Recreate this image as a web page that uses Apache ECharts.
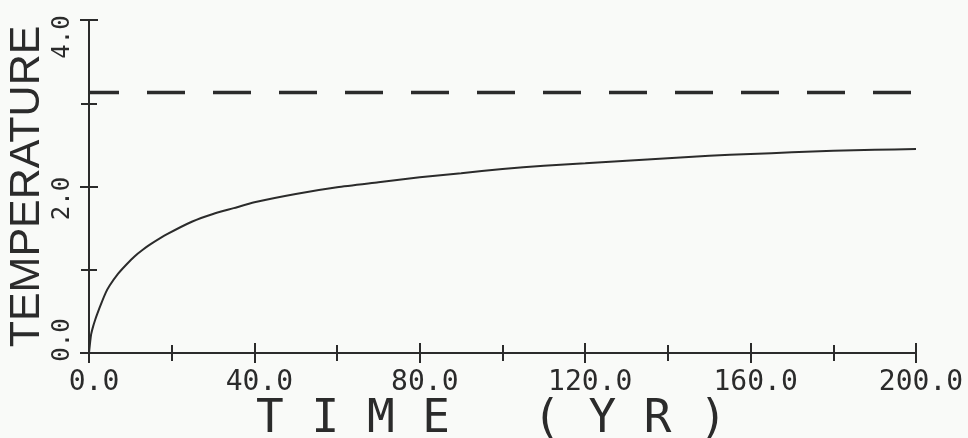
<!DOCTYPE html>
<html>
<head>
<meta charset="utf-8">
<script src="https://cdn.jsdelivr.net/npm/echarts@6/dist/echarts.min.js"></script>
<style>
  html, body { margin: 0; padding: 0; background: #f9faf8; }
  #chart { width: 968px; height: 438px; }
</style>
</head>
<body>
<div id="chart"></div>
<script>
// ---- data ----
const timeYears = [0, 0.5, 1, 1.5, 2, 3, 4, 5, 7, 9, 11, 13, 15, 19, 25, 30, 35, 40, 50, 60, 70, 80, 90, 100, 110, 120, 130, 140, 150, 160, 170, 180, 190, 200];
const temperature = [0, 0.22, 0.32, 0.40, 0.47, 0.60, 0.72, 0.81, 0.95, 1.06, 1.16, 1.24, 1.31, 1.43, 1.58, 1.67, 1.74, 1.81, 1.91, 1.99, 2.05, 2.11, 2.16, 2.21, 2.25, 2.28, 2.31, 2.34, 2.37, 2.39, 2.41, 2.43, 2.44, 2.45];
const equilibriumTime = [0, 200];
const equilibriumTemp = [3.13, 3.13];
const xTickValues = [0, 40, 80, 120, 160, 200];
const yTickValues = [0, 2, 4];
const xTitle = 'T I M E   ( Y R )';
const yTitle = 'TEMPERATURE';

const ink = '#2b2b2b';
const mono = '"DejaVu Sans Mono", monospace';

function fmt(v) { return v.toFixed(1); }

function xAx(pos, opts) {
  return Object.assign({
    type: 'value', position: pos, min: 0, max: 200, interval: 40, offset: 0,
    axisLine: { show: false, lineStyle: { color: ink, width: 2 } },
    axisTick: { show: true, inside: false, length: 10, lineStyle: { color: ink, width: 2 } },
    minorTick: { show: false },
    axisLabel: { show: false },
    splitLine: { show: false }
  }, opts);
}
function yAx(pos, opts) {
  return Object.assign({
    type: 'value', position: pos, min: 0, max: 4, interval: 2, offset: 0,
    axisLine: { show: false, lineStyle: { color: ink, width: 2 } },
    axisTick: { show: true, inside: false, length: 9, lineStyle: { color: ink, width: 2 } },
    minorTick: { show: false },
    axisLabel: { show: false },
    splitLine: { show: false }
  }, opts);
}

const yLabelStyle = { fontFamily: mono, fontSize: 24, color: ink };

const option = {
  backgroundColor: '#f9faf8',
  animation: false,
  grid: { left: 89, right: 52, top: 20, bottom: 85, containLabel: false, outerBoundsMode: 'none' },
  xAxis: [
    xAx('bottom', {
      axisLine: { show: true, lineStyle: { color: ink, width: 2 } },
      minorTick: { show: true, splitNumber: 2, length: 8, lineStyle: { color: ink, width: 2 } },
      axisLabel: {
        show: true, margin: 16, color: ink, fontFamily: mono, fontSize: 28,
        padding: [0, 0, 0, 10],
        formatter: v => xTickValues.includes(v) ? fmt(v) : ''
      },
      name: xTitle, nameLocation: 'middle', nameGap: 44, nameMoveOverlap: false,
      nameTextStyle: { color: ink, fontFamily: mono, fontSize: 46, padding: [0, 22, 0, 0] }
    }),
    xAx('bottom', { axisTick: { show: true, inside: true, length: 9, lineStyle: { color: ink, width: 2 } } }),
    xAx('top', {
      axisLine: { show: true, lineStyle: { color: ink, width: 2 } },
      minorTick: { show: true, splitNumber: 2, length: 8, lineStyle: { color: ink, width: 2 } }
    }),
    xAx('top', { axisTick: { show: true, inside: true, length: 9, lineStyle: { color: ink, width: 2 } } })
  ],
  yAxis: [
    yAx('left', {
      axisLine: { show: true, lineStyle: { color: ink, width: 2 } },
      minorTick: { show: true, splitNumber: 2, length: 8, lineStyle: { color: ink, width: 2 } },
      axisLabel: {
        show: true, rotate: 90, margin: 14, color: ink, fontFamily: mono, fontSize: 24,
        formatter: v => {
          if (!yTickValues.includes(v)) return '';
          const key = v === 0 ? 'lo' : (v === 4 ? 'hi' : 'mid');
          return '{' + key + '|' + fmt(v) + '}';
        },
        rich: {
          lo: Object.assign({ padding: [0, 0, 0, 26] }, yLabelStyle),
          mid: Object.assign({ padding: [0, 24, 0, 0] }, yLabelStyle),
          hi: Object.assign({ padding: [0, 34, 0, 0] }, yLabelStyle)
        }
      },
      name: yTitle, nameLocation: 'middle', nameRotate: 90, nameGap: 40, nameMoveOverlap: false,
      nameTextStyle: { color: ink, fontFamily: '"Liberation Sans", Arial, sans-serif', fontSize: 43 }
    }),
    yAx('left', { axisTick: { show: true, inside: true, length: 9, lineStyle: { color: ink, width: 2 } } }),
    yAx('right', {
      axisLine: { show: true, lineStyle: { color: ink, width: 2 } },
      minorTick: { show: true, splitNumber: 2, length: 8, lineStyle: { color: ink, width: 2 } }
    }),
    yAx('right', { axisTick: { show: true, inside: true, length: 9, lineStyle: { color: ink, width: 2 } } })
  ],
  series: [
    {
      type: 'line', xAxisIndex: 0, yAxisIndex: 0,
      data: timeYears.map((t, i) => [t, temperature[i]]),
      showSymbol: false, smooth: 0.2,
      lineStyle: { color: ink, width: 2 }
    },
    {
      type: 'line', xAxisIndex: 0, yAxisIndex: 0,
      data: equilibriumTime.map((t, i) => [t, equilibriumTemp[i]]),
      showSymbol: false,
      lineStyle: { color: ink, width: 3.5, type: [38, 28], dashOffset: 8 }
    }
  ]
};

const chart = echarts.init(document.getElementById('chart'), null, { renderer: 'canvas' });
chart.setOption(option);
</script>
</body>
</html>
